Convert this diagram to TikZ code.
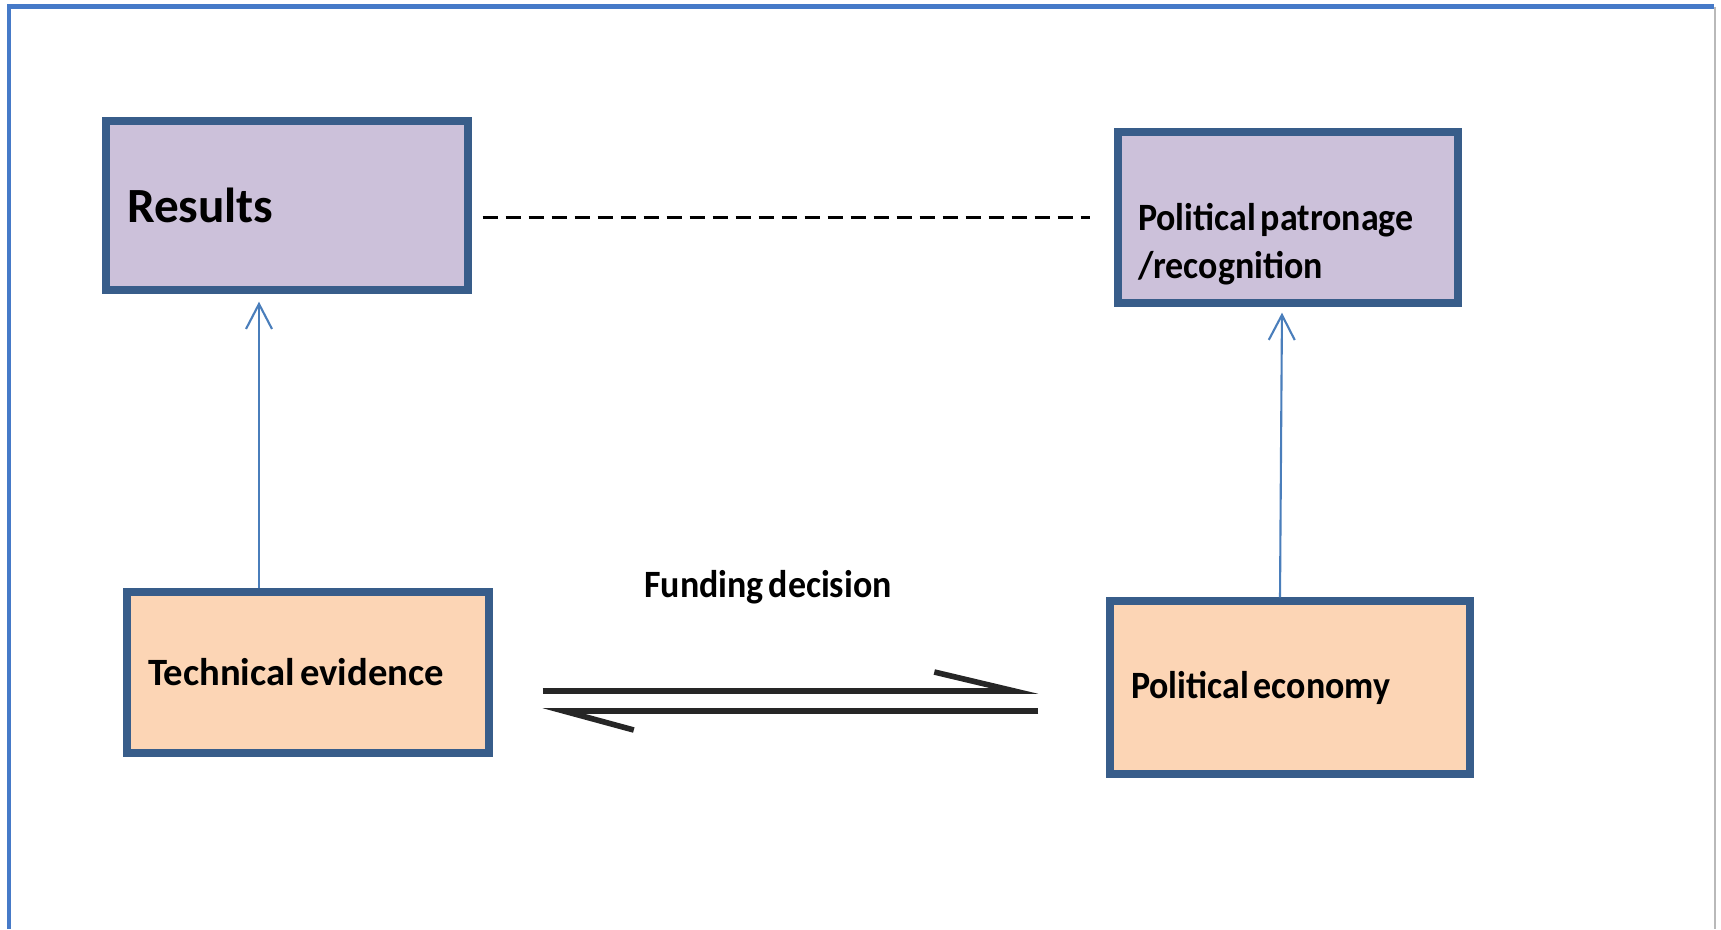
\documentclass[tikz,border=0pt]{standalone}
\usepackage{fontspec}
\setmainfont[WordSpace=0.6]{Carlito}
\newfontfamily\narrowfont[FakeStretch=0.93, WordSpace=0.6]{Carlito}
\usetikzlibrary{arrows.meta}
\definecolor{boxedge}{RGB}{56,93,138}
\definecolor{mylilac}{RGB}{204,193,218}
\definecolor{mypeach}{RGB}{252,213,181}
\definecolor{linkblue}{RGB}{74,126,187}
\definecolor{frameblue}{RGB}{70,122,200}

\begin{document}
\begin{tikzpicture}[
    box/.style={draw=boxedge, line width=2.1pt, rectangle, inner xsep=0.2cm, align=flush left,
      font=\narrowfont\bfseries\fontsize{11}{13.4}\selectfont},
    link/.style={draw=linkblue, line width=0.6pt, -{Straight Barb[length=0.25cm, width=0.26cm]}},
    fund/.style={line width=1.6pt, black!85, -{Straight Barb[left, length=#1, width=0.38cm]}}]
  \useasboundingbox (0,0) rectangle (17.21,-9.29);
  % frame
  \draw[frameblue, line width=1.2pt] (0.09,-9.29) -- (0.09,-0.065) -- (17.14,-0.065);
  \draw[gray!55, line width=0.4pt] (17.15,-0.065) -- (17.15,-9.29);
  % boxes
  \node[box, fill=mylilac, minimum width=3.62cm, minimum height=1.69cm, text width=3.2cm,
    font=\bfseries\fontsize{14}{17}\selectfont] (res) at (2.87,-2.055) {Results};
  \node[box, fill=mylilac, minimum width=3.40cm, minimum height=1.71cm, text width=3.0cm,
    text height=22.9pt] (pat) at (12.88,-2.175) {Political patronage\\/recognition};
  \node[box, fill=mypeach, minimum width=3.62cm, minimum height=1.61cm, text width=3.2cm,
    font=\bfseries\fontsize{11}{13.4}\selectfont] (tec) at (3.08,-6.725) {Technical evidence};
  \node[box, fill=mypeach, minimum width=3.60cm, minimum height=1.73cm, text width=3.18cm] (pec) at (12.90,-6.875) {Political economy};
  \node[font=\narrowfont\bfseries\fontsize{11}{13}\selectfont, anchor=base] (fdl) at (7.68,-5.97) {Funding decision};
  % connectors
  \draw[black, line width=0.6pt, dash pattern=on 0.15cm off 0.08cm, shorten <=0.11cm, shorten >=0.24cm]
    (res.east |- pat.west) -- (pat.west);
  \draw[link, shorten >=0.08cm] ([xshift=-0.49cm]tec.north) -- ([xshift=-0.28cm]res.south);
  \draw[link, shorten >=0.06cm] ([xshift=-0.10cm]pec.north) -- ([xshift=-0.06cm]pat.south);
  \draw[fund=0.8cm, shorten <=0.50cm, shorten >=0.68cm] (tec.east |- 0,-6.91) -- (pec.west |- 0,-6.91);
  \draw[fund=0.7cm, shorten <=0.68cm, shorten >=0.50cm] (pec.west |- 0,-7.11) -- (tec.east |- 0,-7.11);
\end{tikzpicture}
\end{document}
